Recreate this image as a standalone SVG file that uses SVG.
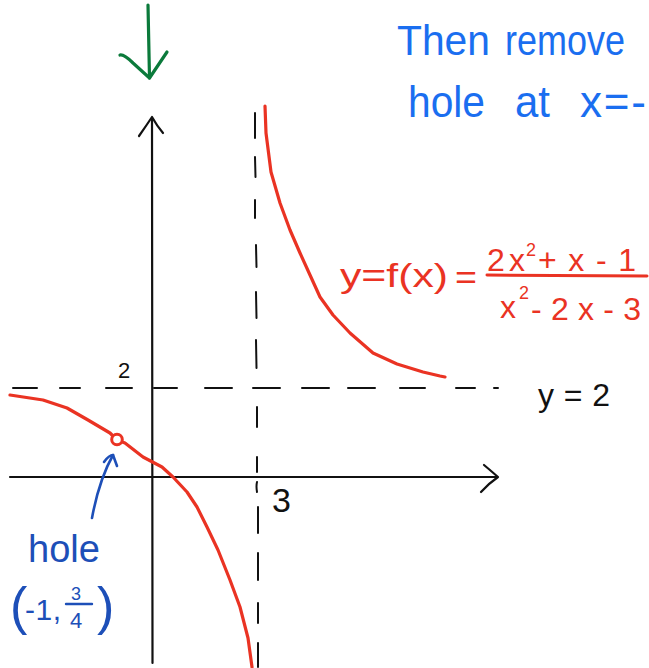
<svg xmlns="http://www.w3.org/2000/svg" width="649" height="668" viewBox="0 0 649 668">
<style>
.ax{fill:none;stroke:#111;stroke-width:2.2;stroke-linecap:round;stroke-linejoin:round}
.dash{fill:none;stroke:#111;stroke-width:2;stroke-linecap:round}
.red{fill:none;stroke:#ea3323;stroke-width:3.2;stroke-linecap:round;stroke-linejoin:round}
.t{font-family:"Liberation Sans",Arial,sans-serif}
.tr{fill:#ea3323}
.tb{fill:#1a6ef0}
.tl{fill:#1d4fb8}
.tk{fill:#111}
</style>
<rect width="649" height="668" fill="#fff"/>
<g id="green-arrow">
<path d="M148,5 L149.5,78" fill="none" stroke="#0b7a3b" stroke-width="3.2" stroke-linecap="round"/>
<path d="M120,55 Q124,54 133,63 L149.5,78 L167,52" fill="none" stroke="#0b7a3b" stroke-width="3.2" stroke-linecap="round" stroke-linejoin="round"/>
</g>
<g id="axes">
<path class="ax" d="M152,118 L152.5,663"/>
<path class="ax" d="M139,136 Q146,126 152,117 Q157,126 163,133"/>
<path class="ax" d="M10,477 L497,477"/>
<path class="ax" d="M484,465 Q490,470 498,477 Q488,484 481,492"/>
</g>
<g id="asymptotes">
<path class="dash" d="M13,388 H37 M60,388 H80 M106,388 H132 M154,388 H177 M205,388 H232 M253,388 H280 M302,388 H329 M348,388 H375 M400,388 H425 M456,388 H475 M494,388 H498"/>
<path class="dash" d="M255,113 L255,138 M255,157 L255.5,177 M255,200 L255,218 M256,245 L256.5,267 M256,292 L256.5,318 M256,340 L256.5,368 M257,407 L257,427 M257,457 L257,472 M257,482 Q256,486 257,492 M258,507 L258,533 M258,553 L258,580 M258,603 L258,623 M258,643 L258,667"/>
</g>
<g id="curve">
<path class="red" d="M265,106 L266,133 L271,172 L280,203 L290,230 L300,253 L310,275 L320,297 L333,315 L350,333 L373,353 L397,364 L423,372 L440,376 L445,377"/>
<path class="red" d="M10,395 L43,400 L67,408 L88,420 L110,433 L117,440 L125,443 L143,457 L162,467 L173,477 L187,492 L197,507 L207,527 L218,550 L230,580 L240,607 L248,638 L252,667"/>
<circle cx="117" cy="439.5" r="5.3" fill="#fff" stroke="#ea3323" stroke-width="3"/>
</g>
<g id="labels-black">
<text class="t tk" x="118" y="378" font-size="22">2</text>
<text class="t tk" x="272" y="512" font-size="34">3</text>
<text class="t tk" x="538" y="406" font-size="32" textLength="72" lengthAdjust="spacing">y=2</text>
</g>
<g id="equation">
<text class="t tr" x="340" y="287" font-size="34" textLength="108" lengthAdjust="spacingAndGlyphs">y=f(x)</text>
<text class="t tr" x="455" y="289" font-size="34" textLength="22" lengthAdjust="spacingAndGlyphs">=</text>
<text class="t tr" x="487" y="271" font-size="32" textLength="38" lengthAdjust="spacing">2x</text>
<text class="t tr" x="526" y="256" font-size="18">2</text>
<text class="t tr" x="538" y="271" font-size="32" textLength="98" lengthAdjust="spacing">+x-1</text>
<path d="M487,275 L647,276" fill="none" stroke="#ea3323" stroke-width="3" stroke-linecap="round"/>
<text class="t tr" x="500" y="318" font-size="32">x</text>
<text class="t tr" x="519" y="299" font-size="18">2</text>
<text class="t tr" x="531" y="320" font-size="32" textLength="110" lengthAdjust="spacing">-2x-3</text>
</g>
<g id="note-top">
<text class="t tb" font-size="42"><tspan x="397" y="55" textLength="93" lengthAdjust="spacingAndGlyphs">Then</tspan><tspan x="505" y="55" textLength="120" lengthAdjust="spacingAndGlyphs">remove</tspan></text>
<text class="t tb" font-size="44"><tspan x="408" y="117" textLength="77" lengthAdjust="spacingAndGlyphs">hole</tspan><tspan x="515" y="117" textLength="35" lengthAdjust="spacingAndGlyphs">at</tspan><tspan x="580" y="117" textLength="66" lengthAdjust="spacing">x=-</tspan></text>
</g>
<g id="hole-note">
<path d="M92,518 Q99,480 113,455" fill="none" stroke="#1d4fb8" stroke-width="2.6" stroke-linecap="round"/>
<path d="M104,462 Q109,455 113,455 L117,466" fill="none" stroke="#1d4fb8" stroke-width="2.6" stroke-linecap="round" stroke-linejoin="round"/>
<text class="t tl" x="28" y="562" font-size="38" textLength="72" lengthAdjust="spacingAndGlyphs">hole</text>
<text class="t tl" x="10" y="624" font-size="52">(</text>
<text class="t tl" x="25" y="620" font-size="30" textLength="36" lengthAdjust="spacing">-1,</text>
<text class="t tl" x="71" y="600" font-size="18">3</text>
<path d="M66,604 L92,604" fill="none" stroke="#1d4fb8" stroke-width="2.4" stroke-linecap="round"/>
<text class="t tl" x="70" y="628" font-size="22">4</text>
<text class="t tl" x="97" y="624" font-size="52">)</text>
</g>
</svg>
